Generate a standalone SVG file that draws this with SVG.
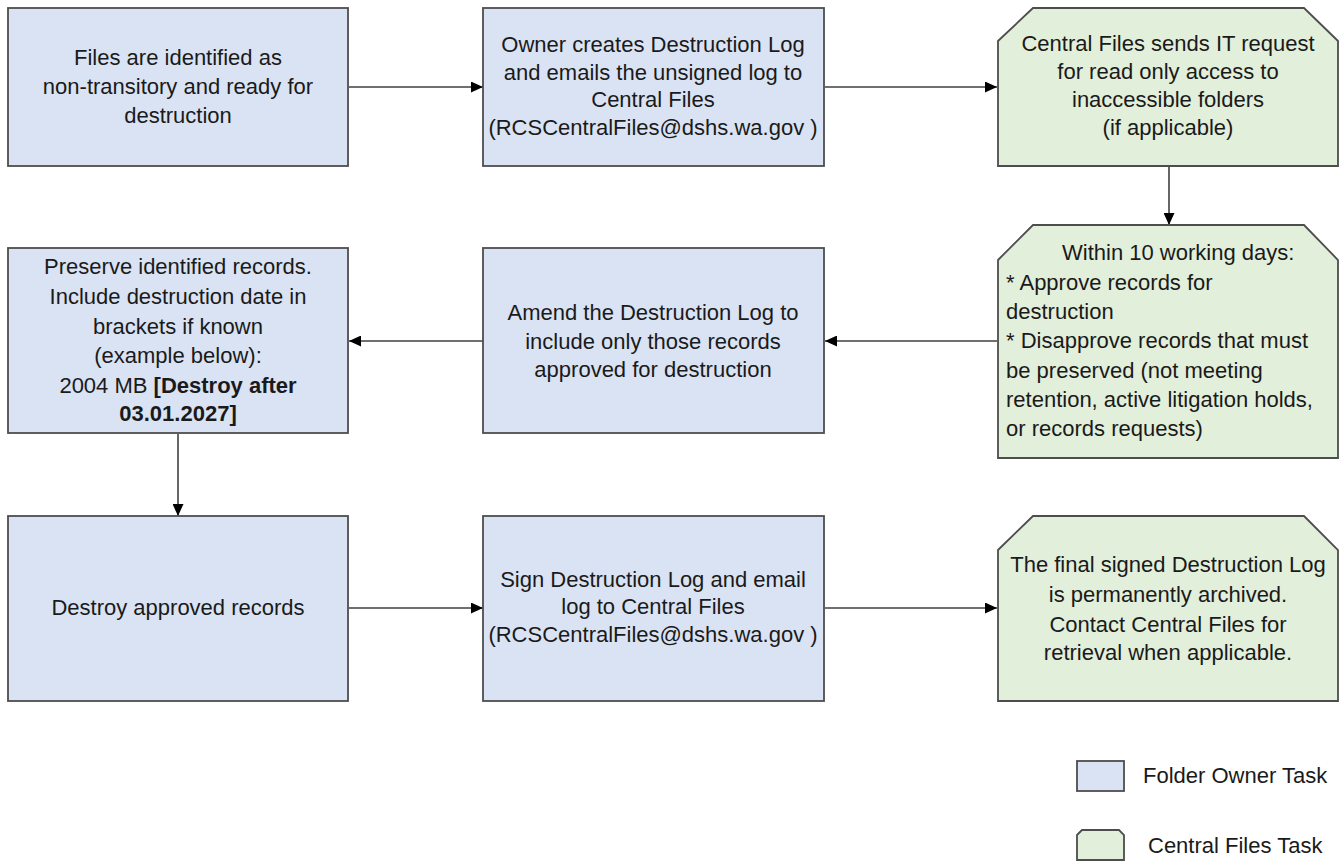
<svg xmlns="http://www.w3.org/2000/svg" width="1341" height="861" viewBox="0 0 1341 861">
<defs>
<marker id="ah" markerUnits="userSpaceOnUse" markerWidth="13" markerHeight="11" refX="12" refY="5.5" orient="auto">
<path d="M0,0 L12,5.5 L0,11 Z" fill="#000"/>
</marker>
<style>
.blue{fill:#dae3f3;stroke:#4d4d4d;stroke-width:1.8}
.green{fill:#e2efda;stroke:#4d4d4d;stroke-width:1.8}
text{font-family:"Liberation Sans",Arial,sans-serif;font-size:22px;fill:#1a1a1a}
.c{text-anchor:middle}
.b{font-weight:bold}
.conn{stroke:#404040;stroke-width:1.6;fill:none;marker-end:url(#ah)}
</style>
</defs>
<rect width="1341" height="861" fill="#fff"/>

<g id="connectors">
<line class="conn" x1="349" y1="87" x2="483" y2="87"/>
<line class="conn" x1="825" y1="87" x2="997" y2="87"/>
<line class="conn" x1="1169" y1="167" x2="1169" y2="225"/>
<line class="conn" x1="997" y1="341" x2="825" y2="341"/>
<line class="conn" x1="483" y1="341" x2="349" y2="341"/>
<line class="conn" x1="178" y1="434" x2="178" y2="516"/>
<line class="conn" x1="349" y1="608" x2="483" y2="608"/>
<line class="conn" x1="825" y1="608" x2="997" y2="608"/>
</g>

<g id="n1">
<rect class="blue" x="8" y="8" width="340" height="158"/>
<text class="c" x="178" y="65">Files are identified as</text>
<text class="c" x="178" y="94">non-transitory and ready for</text>
<text class="c" x="178" y="123">destruction</text>
</g>

<g id="n2">
<rect class="blue" x="483" y="8" width="341" height="158"/>
<text class="c" x="653" y="52">Owner creates Destruction Log</text>
<text class="c" x="653" y="80">and emails the unsigned log to</text>
<text class="c" x="653" y="107">Central Files</text>
<text class="c" x="653" y="135">(RCSCentralFiles@dshs.wa.gov )</text>
</g>

<g id="n3">
<path class="green" d="M998,41 L1033,8 L1304,8 L1338,41 L1338,166 L998,166 Z"/>
<text class="c" x="1168" y="51">Central Files sends IT request</text>
<text class="c" x="1168" y="79">for read only access to</text>
<text class="c" x="1168" y="107">inaccessible folders</text>
<text class="c" x="1168" y="135">(if applicable)</text>
</g>

<g id="n4">
<rect class="blue" x="8" y="248" width="340" height="185"/>
<text class="c" x="178" y="274">Preserve identified records.</text>
<text class="c" x="178" y="304">Include destruction date in</text>
<text class="c" x="178" y="334">brackets if known</text>
<text class="c" x="178" y="363">(example below):</text>
<text class="c" x="178" y="393">2004 MB <tspan class="b">[Destroy after</tspan></text>
<text class="c b" x="178" y="421">03.01.2027]</text>
</g>

<g id="n5">
<rect class="blue" x="483" y="248" width="341" height="185"/>
<text class="c" x="653" y="320">Amend the Destruction Log to</text>
<text class="c" x="653" y="349">include only those records</text>
<text class="c" x="653" y="377">approved for destruction</text>
</g>

<g id="n6">
<path class="green" d="M998,260 L1033,225 L1304,225 L1338,260 L1338,458 L998,458 Z"/>
<text x="1062" y="260">Within 10 working days:</text>
<text x="1006" y="290">* Approve records for</text>
<text x="1006" y="319">destruction</text>
<text x="1006" y="348">* Disapprove records that must</text>
<text x="1006" y="378">be preserved (not meeting</text>
<text x="1006" y="407">retention, active litigation holds,</text>
<text x="1006" y="436">or records requests)</text>
</g>

<g id="n7">
<rect class="blue" x="8" y="516" width="340" height="185"/>
<text class="c" x="178" y="615">Destroy approved records</text>
</g>

<g id="n8">
<rect class="blue" x="483" y="516" width="341" height="185"/>
<text class="c" x="653" y="587">Sign Destruction Log and email</text>
<text class="c" x="653" y="614">log to Central Files</text>
<text class="c" x="653" y="642">(RCSCentralFiles@dshs.wa.gov )</text>
</g>

<g id="n9">
<path class="green" d="M998,550 L1033,516 L1304,516 L1338,550 L1338,701 L998,701 Z"/>
<text class="c" x="1168" y="572">The final signed Destruction Log</text>
<text class="c" x="1168" y="602">is permanently archived.</text>
<text class="c" x="1168" y="632">Contact Central Files for</text>
<text class="c" x="1168" y="660">retrieval when applicable.</text>
</g>

<g id="legend-owner">
<rect class="blue" x="1077" y="761" width="47" height="30"/>
<text x="1143" y="783">Folder Owner Task</text>
</g>
<g id="legend-central">
<path class="green" d="M1077,835 L1082,830 L1119,830 L1124,835 L1124,860 L1077,860 Z"/>
<text x="1148" y="853">Central Files Task</text>
</g>
</svg>
